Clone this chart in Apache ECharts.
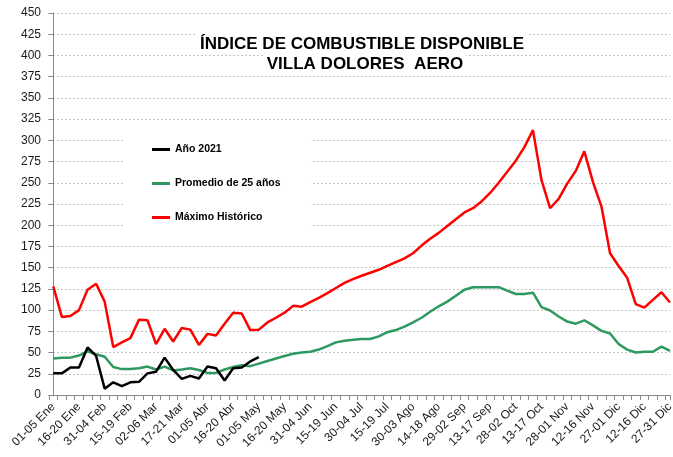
<!DOCTYPE html>
<html>
<head>
<meta charset="utf-8">
<script src="https://cdn.jsdelivr.net/npm/echarts@6/dist/echarts.min.js"></script>
<style>
html, body { margin: 0; padding: 0; background: #fff; }
#chart { width: 673px; height: 457px; }
</style>
</head>
<body>
<div id="chart"></div>
<script>
// pentadas del año (73)
const pentads = [
    '01-05 Ene', '06-10 Ene', '11-15 Ene', '16-20 Ene', '21-25 Ene', '26-30 Ene',
    '31-04 Feb', '05-09 Feb', '10-14 Feb', '15-19 Feb', '20-24 Feb', '25-01 Mar',
    '02-06 Mar', '07-11 Mar', '12-16 Mar', '17-21 Mar', '22-26 Mar', '27-31 Mar',
    '01-05 Abr', '06-10 Abr', '11-15 Abr', '16-20 Abr', '21-25 Abr', '26-30 Abr',
    '01-05 May', '06-10 May', '11-15 May', '16-20 May', '21-25 May', '26-30 May',
    '31-04 Jun', '05-09 Jun', '10-14 Jun', '15-19 Jun', '20-24 Jun', '25-29 Jun',
    '30-04 Jul', '05-09 Jul', '10-14 Jul', '15-19 Jul', '20-24 Jul', '25-29 Jul',
    '30-03 Ago', '04-08 Ago', '09-13 Ago', '14-18 Ago', '19-23 Ago', '24-28 Ago',
    '29-02 Sep', '03-07 Sep', '08-12 Sep', '13-17 Sep', '18-22 Sep', '23-27 Sep',
    '28-02 Oct', '03-07 Oct', '08-12 Oct', '13-17 Oct', '18-22 Oct', '23-27 Oct',
    '28-01 Nov', '02-06 Nov', '07-11 Nov', '12-16 Nov', '17-21 Nov', '22-26 Nov',
    '27-01 Dic', '02-06 Dic', '07-11 Dic', '12-16 Dic', '17-21 Dic', '22-26 Dic',
    '27-31 Dic'
];

const maxHistorico = [
    128, 92, 93, 100, 124, 131, 110, 56.5, 62, 67,
    88.5, 88, 60, 78, 63, 79, 77, 59, 72, 70,
    84, 97, 96, 76.5, 77, 85.5, 91, 97, 105, 104,
    109.5, 114.5, 120, 126, 132, 136.5, 140.5, 144, 147.5, 152,
    156.5, 161, 167, 176, 184, 191, 199, 207, 215, 220,
    228, 238, 250, 263, 276, 292, 312, 253, 220, 231,
    249, 264, 287, 251, 222, 167, 152, 138, 107, 103,
    112, 121, 109
];

const promedio25 = [
    43, 44, 44, 46.5, 51.5, 48, 45, 33, 30.5, 30.5,
    31.5, 33.5, 30, 33.5, 29, 30, 31.5, 29.5, 26, 26,
    30, 33, 35, 34, 37, 40, 43, 46, 48.5, 50,
    51, 53.5, 57.5, 62, 64, 65, 66, 66, 69, 74,
    76.5, 80.5, 85.5, 91, 98, 104.5, 110, 117, 124, 127,
    127, 127, 127, 123, 119, 119, 120.5, 103.5, 99.5, 92.5,
    86.5, 84, 88, 82, 75.5, 72.5, 60, 53.5, 50, 51,
    51, 57, 52
];

const anio2021 = [
    25.5, 25.5, 32.5, 32.5, 56, 46, 7.5, 15, 10.5, 15,
    15.5, 25.5, 27.5, 44, 29.5, 19, 22.5, 19.5, 33.5, 31.5,
    17, 31.5, 32.5, 39.5, 44.5
];

const seriesNames = ['Año 2021', 'Promedio de 25 años', 'Máximo Histórico'];
const seriesColors = ['#000000', '#2e9960', '#ff0000'];

const font = '"Liberation Sans", Arial, sans-serif';
const labelTicks = pentads.map((p, i) => i).filter(i => i % 3 === 0);
const minorTicks = pentads.map((p, i) => i - 0.5).concat([pentads.length - 1]);

const toPoints = arr => arr.map((v, i) => [i, v]);

const chart = echarts.init(document.getElementById('chart'), null, {renderer: 'canvas'});

chart.setOption({
    animation: false,
    backgroundColor: '#fff',
    textStyle: {fontFamily: font},
    title: [{
        text: 'ÍNDICE DE COMBUSTIBLE DISPONIBLE',
        left: 359,
        top: 34,
        textAlign: 'center',
        padding: [2, 3],
        backgroundColor: '#fff',
        textStyle: {fontFamily: font, fontSize: 17, fontWeight: 'bold', color: '#000'}
    }, {
        text: 'VILLA DOLORES  AERO',
        left: 362,
        top: 54,
        textAlign: 'center',
        padding: [2, 3],
        backgroundColor: '#fff',
        textStyle: {fontFamily: font, fontSize: 17, fontWeight: 'bold', color: '#000'}
    }],
    legend: {
        data: seriesNames,
        orient: 'vertical',
        left: 124,
        top: 128,
        padding: [16, 30, 11, 28],
        backgroundColor: '#fff',
        itemGap: 23,
        itemWidth: 18,
        itemHeight: 3,
        icon: 'rect',
        z: 5,
        textStyle: {fontFamily: font, fontSize: 10.5, fontWeight: 'bold', color: '#000'}
    },
    grid: {
        left: 49,
        right: 3,
        top: 13,
        bottom: 62,
        outerBoundsMode: 'none'
    },
    xAxis: {
        type: 'value',
        min: -0.5,
        max: pentads.length - 1,
        axisLine: {show: true, lineStyle: {color: '#898989', width: 1}},
        axisTick: {show: true, customValues: minorTicks, length: 5, lineStyle: {color: '#898989'}},
        axisLabel: {
            customValues: labelTicks,
            formatter: v => pentads[Math.round(v)],
            rotate: 45,
            margin: 10,
            fontSize: 12,
            color: '#1a1a1a',
            fontFamily: font
        },
        splitLine: {show: false}
    },
    yAxis: {
        type: 'value',
        min: 0,
        max: 450,
        interval: 25,
        axisLine: {show: true, lineStyle: {color: '#898989', width: 1}},
        axisTick: {show: true, length: 5, lineStyle: {color: '#898989'}},
        axisLabel: {fontSize: 12, color: '#1a1a1a', margin: 8, fontFamily: font},
        splitLine: {show: true, lineStyle: {color: '#c4c4c4', type: [2, 2], width: 1}}
    },
    series: [{
        name: seriesNames[2],
        type: 'line',
        data: toPoints(maxHistorico),
        showSymbol: false,
        symbol: 'none',
        color: seriesColors[2],
        lineStyle: {width: 2.5, color: seriesColors[2]}
    }, {
        name: seriesNames[1],
        type: 'line',
        data: toPoints(promedio25),
        showSymbol: false,
        symbol: 'none',
        color: seriesColors[1],
        lineStyle: {width: 2.5, color: seriesColors[1]}
    }, {
        name: seriesNames[0],
        type: 'line',
        data: toPoints(anio2021),
        showSymbol: false,
        symbol: 'none',
        color: seriesColors[0],
        lineStyle: {width: 2.5, color: seriesColors[0]}
    }]
});
</script>
</body>
</html>
